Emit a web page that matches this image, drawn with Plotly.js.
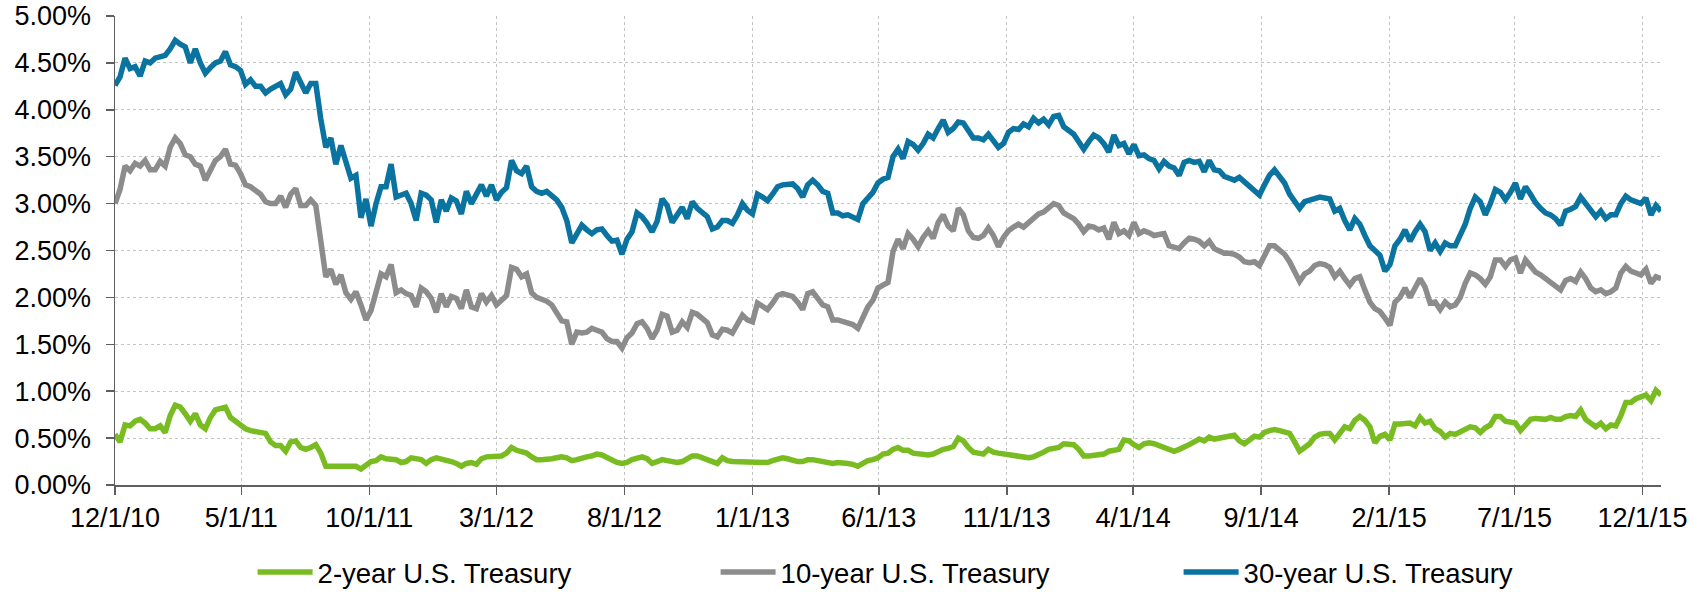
<!DOCTYPE html>
<html>
<head>
<meta charset="utf-8">
<script src="https://cdn.plot.ly/plotly-3.0.1.min.js"></script>
<style>html,body{margin:0;padding:0;background:#fff;}#chart{width:1708px;height:592px;}</style>
</head>
<body>
<div id="chart"></div>
<script>
const startDate = '2010-12-01';
const stepDays = 6;

const seriesNames = ['2-year U.S. Treasury', '10-year U.S. Treasury', '30-year U.S. Treasury'];

const yield2y = [
0.54,0.46,0.64,0.63,0.68,0.70,0.66,0.60,0.60,0.63,
0.56,0.74,0.85,0.83,0.76,0.68,0.76,0.64,0.60,0.72,
0.80,0.82,0.83,0.72,0.68,0.64,0.60,0.58,0.57,0.57,
0.55,0.46,0.42,0.42,0.36,0.46,0.47,0.40,0.38,0.40,
0.43,0.34,0.20,0.20,0.20,0.21,0.20,0.20,0.20,0.17,
0.21,0.25,0.26,0.30,0.28,0.28,0.27,0.24,0.25,0.29,
0.28,0.27,0.23,0.27,0.29,0.28,0.26,0.25,0.23,0.20,
0.23,0.24,0.22,0.28,0.30,0.30,0.30,0.31,0.34,0.40,
0.37,0.36,0.34,0.30,0.27,0.27,0.27,0.28,0.29,0.30,
0.29,0.26,0.27,0.29,0.30,0.31,0.33,0.32,0.29,0.26,
0.24,0.23,0.24,0.27,0.28,0.30,0.28,0.23,0.25,0.27,
0.26,0.25,0.24,0.25,0.28,0.31,0.31,0.29,0.27,0.25,
0.23,0.29,0.26,0.25,0.25,0.25,0.25,0.25,0.25,0.25,
0.24,0.26,0.27,0.29,0.28,0.26,0.25,0.25,0.27,0.27,
0.26,0.25,0.24,0.23,0.24,0.24,0.23,0.22,0.20,0.23,
0.26,0.27,0.29,0.33,0.34,0.38,0.40,0.37,0.37,
0.34,0.33,0.32,0.32,0.33,0.36,0.38,0.39,0.41,0.50,
0.47,0.40,0.35,0.34,0.33,0.38,0.35,0.34,0.33,0.32,
0.32,0.30,0.29,0.29,0.30,0.32,0.35,0.38,0.39,0.40,
0.44,0.44,0.43,0.38,0.31,0.31,0.32,0.32,0.33,0.36,
0.37,0.38,0.48,0.47,0.43,0.40,0.44,0.45,0.44,0.42,
0.41,0.39,0.36,0.38,0.40,0.43,0.46,0.49,0.47,0.51,
0.49,0.50,0.51,0.52,0.53,0.47,0.44,0.48,0.52,0.51,
0.56,0.58,0.59,0.58,0.57,0.55,0.46,0.36,0.40,0.44,
0.51,0.54,0.55,0.55,0.48,0.55,0.62,0.60,0.69,0.73,
0.69,0.62,0.45,0.52,0.54,0.48,0.65,0.65,0.65,0.66,
0.63,0.72,0.66,0.68,0.60,0.57,0.51,0.55,0.54,0.57,
0.60,0.62,0.61,0.56,0.61,0.64,0.73,0.73,0.68,0.67,
0.66,0.58,0.63,0.70,0.71,0.71,0.70,0.72,0.70,0.70,
0.73,0.74,0.73,0.80,0.70,0.66,0.62,0.66,0.60,0.64,
0.63,0.74,0.88,0.88,0.92,0.94,0.96,0.90,1.01,0.96
];

const yield10y = [
3.00,3.15,3.40,3.35,3.43,3.40,3.46,3.36,3.36,3.45,
3.40,3.60,3.70,3.64,3.52,3.50,3.42,3.40,3.25,3.35,
3.46,3.50,3.58,3.42,3.41,3.32,3.20,3.18,3.14,3.10,
3.02,3.00,3.00,3.08,2.96,3.10,3.16,2.98,2.98,3.04,
2.98,2.55,2.22,2.30,2.14,2.24,2.05,1.98,2.06,1.92,
1.76,1.86,2.05,2.25,2.22,2.35,2.05,2.08,2.04,2.02,
1.90,2.10,2.06,1.99,1.84,2.04,1.90,2.01,1.99,1.88,
2.08,1.90,1.88,2.04,1.95,2.02,1.92,1.97,2.02,2.32,
2.30,2.22,2.25,2.05,2.00,1.98,1.96,1.92,1.84,1.75,
1.74,1.50,1.63,1.62,1.63,1.67,1.65,1.63,1.56,1.53,
1.53,1.46,1.57,1.62,1.72,1.74,1.67,1.56,1.65,1.82,
1.80,1.63,1.65,1.74,1.68,1.84,1.82,1.78,1.73,1.60,
1.58,1.66,1.65,1.62,1.71,1.81,1.76,1.74,1.94,1.90,
1.87,1.94,2.02,2.04,2.02,2.01,1.95,1.87,2.04,2.06,
1.99,1.92,1.90,1.76,1.76,1.74,1.73,1.71,1.67,1.80,
1.90,1.97,2.10,2.13,2.16,2.49,2.62,2.52,2.68,
2.62,2.54,2.64,2.71,2.63,2.80,2.88,2.76,2.71,2.95,
2.88,2.71,2.64,2.63,2.66,2.74,2.66,2.54,2.64,2.71,
2.75,2.78,2.75,2.80,2.85,2.89,2.91,2.95,3.00,2.98,
2.90,2.87,2.84,2.78,2.70,2.76,2.75,2.72,2.74,2.62,
2.80,2.68,2.71,2.66,2.80,2.68,2.71,2.69,2.66,2.67,
2.68,2.55,2.54,2.52,2.58,2.63,2.62,2.60,2.55,2.60,
2.52,2.50,2.47,2.47,2.46,2.43,2.38,2.37,2.38,2.34,
2.44,2.55,2.55,2.51,2.46,2.38,2.27,2.17,2.25,2.28,
2.34,2.36,2.35,2.32,2.22,2.28,2.20,2.13,2.20,2.22,
2.08,1.95,1.88,1.85,1.78,1.70,1.95,2.00,2.10,2.00,
2.10,2.20,2.11,1.94,1.95,1.87,1.95,1.90,1.92,2.00,
2.15,2.26,2.24,2.20,2.14,2.22,2.40,2.40,2.33,2.40,
2.42,2.26,2.40,2.34,2.27,2.24,2.20,2.17,2.12,2.08,
2.18,2.20,2.17,2.27,2.20,2.10,2.06,2.08,2.04,2.06,
2.10,2.26,2.33,2.28,2.26,2.24,2.30,2.15,2.22,2.20
];

const yield30y = [
4.26,4.35,4.55,4.44,4.46,4.36,4.52,4.50,4.55,4.56,
4.58,4.65,4.74,4.70,4.67,4.50,4.65,4.50,4.39,4.45,
4.50,4.52,4.62,4.48,4.46,4.42,4.27,4.32,4.25,4.25,
4.18,4.22,4.25,4.28,4.16,4.22,4.40,4.30,4.18,4.28,
4.28,3.90,3.60,3.70,3.42,3.62,3.46,3.27,3.30,2.85,
3.05,2.76,3.00,3.18,3.18,3.42,3.07,3.09,3.11,3.00,
2.82,3.11,3.09,3.04,2.80,3.04,2.92,3.06,3.03,2.89,
3.13,3.00,3.10,3.20,3.08,3.20,3.04,3.12,3.17,3.46,
3.35,3.32,3.40,3.18,3.13,3.11,3.13,3.08,3.04,2.96,
2.82,2.58,2.68,2.77,2.72,2.68,2.72,2.73,2.66,2.60,
2.61,2.46,2.62,2.70,2.90,2.86,2.79,2.70,2.81,3.05,
2.98,2.80,2.88,2.96,2.84,3.02,2.95,2.91,2.86,2.73,
2.75,2.82,2.82,2.79,2.88,3.00,2.93,2.89,3.10,3.07,
3.03,3.10,3.18,3.20,3.20,3.21,3.16,3.07,3.20,3.25,
3.20,3.13,3.11,2.90,2.90,2.87,2.88,2.86,2.83,3.00,
3.06,3.12,3.22,3.26,3.28,3.50,3.58,3.48,3.66,
3.63,3.57,3.64,3.74,3.70,3.80,3.89,3.76,3.80,3.87,
3.86,3.78,3.70,3.70,3.68,3.74,3.68,3.60,3.64,3.76,
3.80,3.79,3.85,3.82,3.91,3.86,3.90,3.84,3.93,3.94,
3.82,3.77,3.74,3.66,3.58,3.66,3.73,3.70,3.64,3.55,
3.73,3.62,3.64,3.53,3.63,3.51,3.52,3.48,3.46,3.37,
3.45,3.40,3.38,3.30,3.44,3.46,3.44,3.45,3.34,3.46,
3.36,3.35,3.29,3.27,3.25,3.28,3.23,3.20,3.15,3.09,
3.20,3.30,3.36,3.28,3.22,3.10,3.02,2.95,3.02,3.04,
3.05,3.07,3.06,3.05,2.92,2.95,2.82,2.72,2.84,2.78,
2.66,2.55,2.50,2.45,2.28,2.35,2.55,2.62,2.72,2.60,
2.70,2.78,2.70,2.50,2.58,2.49,2.58,2.55,2.55,2.66,
2.78,2.95,3.07,3.02,2.88,3.00,3.15,3.12,3.04,3.12,
3.22,3.05,3.18,3.10,3.01,2.95,2.90,2.88,2.84,2.77,
2.92,2.94,2.97,3.07,3.00,2.92,2.86,2.92,2.84,2.88,
2.88,3.00,3.08,3.04,3.02,3.00,3.06,2.88,2.98,2.92
];

const xTickVals = ['2010-12-01','2011-05-01','2011-10-01','2012-03-01','2012-08-01','2013-01-01','2013-06-01','2013-11-01','2014-04-01','2014-09-01','2015-02-01','2015-07-01','2015-12-01'];
const xTickText = ['12/1/10','5/1/11','10/1/11','3/1/12','8/1/12','1/1/13','6/1/13','11/1/13','4/1/14','9/1/14','2/1/15','7/1/15','12/1/15'];
const yTickVals = [0,0.5,1,1.5,2,2.5,3,3.5,4,4.5,5];
const yTickText = ['0.00%','0.50%','1.00%','1.50%','2.00%','2.50%','3.00%','3.50%','4.00%','4.50%','5.00%'];

const colors = ['#78BC21', '#8C8C8C', '#0A73A0'];

function buildDates(n) {
  const out = [];
  const t0 = Date.parse(startDate + 'T00:00:00Z');
  for (let i = 0; i < n; i++) {
    out.push(new Date(t0 + i * stepDays * 86400000).toISOString().slice(0, 10));
  }
  return out;
}

const allSeries = [yield2y, yield10y, yield30y];
const traces = allSeries.map((vals, k) => ({
  type: 'scatter',
  mode: 'lines',
  name: seriesNames[k],
  x: buildDates(vals.length),
  y: vals,
  line: {color: colors[k], width: 5.5},
  hoverinfo: 'skip'
}));

const lastDate = buildDates(yield30y.length).slice(-1)[0];
const axisCol = '#5f5f5f';
const gridCol = '#c4c4c4';
const fontFam = 'Arial, "Liberation Sans", sans-serif';

const layout = {
  width: 1708, height: 592,
  margin: {l: 115, r: 47, t: 16, b: 107, pad: 0, autoexpand: false},
  paper_bgcolor: '#ffffff', plot_bgcolor: '#ffffff',
  font: {family: fontFam, size: 27, color: '#000000'},
  showlegend: true,
  legend: {
    orientation: 'h', x: 0.089, xanchor: 'left', y: -0.186, yanchor: 'middle',
    itemwidth: 55, entrywidth: 393, entrywidthmode: 'pixels',
    font: {family: fontFam, size: 27.5, color: '#000000'},
    bgcolor: 'rgba(0,0,0,0)', traceorder: 'normal'
  },
  xaxis: {
    type: 'date', range: [startDate, lastDate],
    tickmode: 'array', tickvals: xTickVals, ticktext: xTickText,
    showgrid: true, gridcolor: gridCol, griddash: 'dot', gridwidth: 1,
    showline: true, linecolor: axisCol, linewidth: 1.5,
    ticks: 'outside', ticklen: 8, tickwidth: 1.5, tickcolor: axisCol,
    automargin: false,
    zeroline: false, tickfont: {family: fontFam, size: 27, color: '#000'},
    fixedrange: true
  },
  yaxis: {
    range: [0, 5],
    tickmode: 'array', tickvals: yTickVals, ticktext: yTickText,
    showgrid: true, gridcolor: gridCol, griddash: 'dot', gridwidth: 1,
    showline: true, linecolor: axisCol, linewidth: 1.5,
    ticks: 'outside', ticklen: 8, tickwidth: 1.5, tickcolor: axisCol,
    ticklabelstandoff: 9, automargin: false,
    zeroline: false, tickfont: {family: fontFam, size: 27, color: '#000'},
    fixedrange: true
  }
};

Plotly.newPlot('chart', traces, layout, {displayModeBar: false, staticPlot: true});
</script>
</body>
</html>
